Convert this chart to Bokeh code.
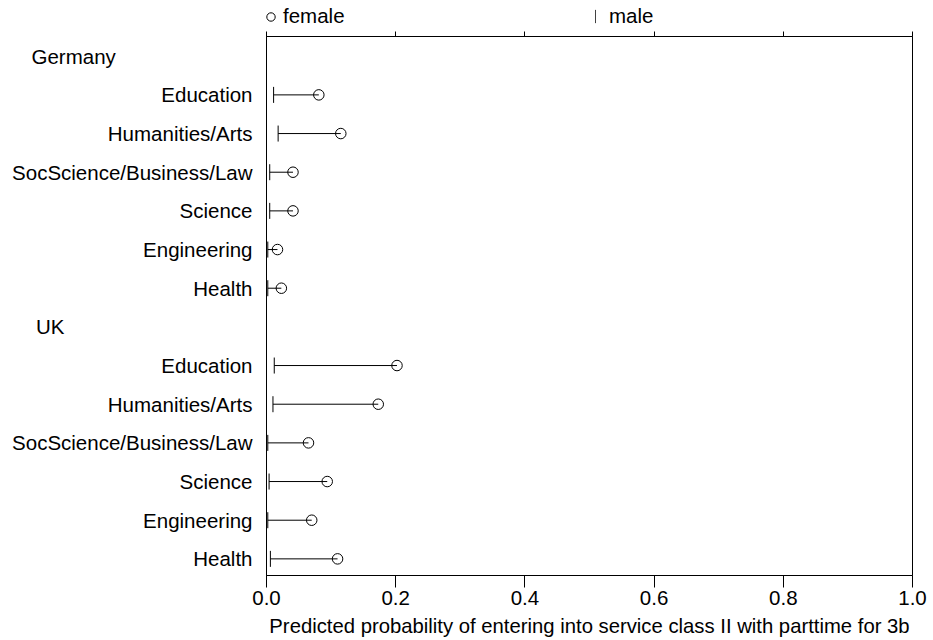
import math

from bokeh.embed import file_html
from bokeh.layouts import column
from bokeh.resources import INLINE
from bokeh.plotting import figure
from bokeh.models import (ColumnDataSource, FixedTicker, LinearAxis,
                          Legend, LegendItem, NumeralTickFormatter, Range1d)

# Predicted probabilities by field of study, per country
fields = ["Education", "Humanities/Arts", "SocScience/Business/Law",
          "Science", "Engineering", "Health"]
countries = ["Germany", "UK"]
germany_female = [0.081, 0.115, 0.041, 0.041, 0.017, 0.023]
germany_male = [0.011, 0.018, 0.005, 0.005, 0.002, 0.002]
uk_female = [0.202, 0.173, 0.065, 0.094, 0.070, 0.110]
uk_male = [0.012, 0.010, 0.002, 0.004, 0.002, 0.006]
x_ticks = [0.0, 0.2, 0.4, 0.6, 0.8, 1.0]
x_title = "Predicted probability of entering into service class II with parttime for 3b"

FONT = "Liberation Sans"
FS = "20.5px"
NBSP = "\u00a0"
# country headers sit flush left in the label column: pad with no-break spaces
header_pad = {"Germany": 24, "UK": 33}

W, H = 933, 640
KEY_H = 30  # strip above the plot holding the key

# Row layout: a header row per country followed by its six fields
rows_y, row_field, row_female, row_male = [], [], [], []
label_map = {}
pos = 0
for name, (female, male) in zip(countries, ((germany_female, germany_male),
                                            (uk_female, uk_male))):
    label_map[-pos] = name + NBSP * header_pad[name]
    pos += 1
    for f, fv, mv in zip(fields, female, male):
        rows_y.append(-pos)
        row_field.append(f)
        row_female.append(fv)
        row_male.append(mv)
        label_map[-pos] = f
        pos += 1

src = ColumnDataSource(dict(y=rows_y, field=row_field, female=row_female, male=row_male))

p = figure(width=W, height=H - KEY_H, output_backend="svg", toolbar_location=None,
           x_range=Range1d(0, 1), y_range=Range1d(-(pos - 1) - 0.43, 0.51),
           min_border_left=266, min_border_right=21, min_border_top=36 - KEY_H,
           min_border_bottom=65, x_axis_location=None, y_axis_location=None)
p.grid.visible = False
p.outline_line_color = "black"
p.outline_line_width = 1
p.background_fill_color = "white"
p.border_fill_color = "white"

# bottom axis
xb = LinearAxis(ticker=FixedTicker(ticks=x_ticks),
                formatter=NumeralTickFormatter(format="0.0"),
                axis_label=x_title)
xb.major_tick_out = 12
xb.major_tick_in = 0
xb.minor_tick_out = 0
xb.minor_tick_in = 0
xb.major_label_standoff = 3
xb.axis_label_standoff = 7
xb.major_label_text_font = FONT
xb.major_label_text_font_size = FS
xb.major_label_text_color = "black"
xb.axis_label_text_font = FONT
xb.axis_label_text_font_size = "20.3px"
xb.axis_label_text_font_style = "normal"
xb.axis_label_text_color = "black"
xb.axis_line_color = "black"
xb.major_tick_line_color = "black"
p.add_layout(xb, "below")

# top axis: ticks only
xt = LinearAxis(ticker=FixedTicker(ticks=x_ticks))
xt.major_tick_out = 5
xt.major_tick_in = 0
xt.minor_tick_out = 0
xt.minor_tick_in = 0
xt.major_label_text_font_size = "0px"
xt.major_label_standoff = 0
xt.axis_line_color = "black"
xt.major_tick_line_color = "black"
p.add_layout(xt, "above")

# left axis with country headers and field names
ticks_y = sorted(label_map.keys())
yl = LinearAxis(ticker=FixedTicker(ticks=ticks_y), major_label_overrides=label_map)
yl.major_tick_out = 0
yl.major_tick_in = 0
yl.minor_tick_out = 0
yl.minor_tick_in = 0
yl.major_label_standoff = 14
yl.major_label_text_font = FONT
yl.major_label_text_font_size = FS
yl.major_label_text_color = "black"
yl.axis_line_color = "black"
p.add_layout(yl, "left")

# connectors, male ticks and female circles
male_style = dict(marker="dash", angle=math.pi / 2, line_color="black", line_width=1)
female_style = dict(marker="circle", fill_color=None, line_color="black", line_width=1)
p.segment(x0="male", y0="y", x1="female", y1="y", source=src,
          line_color="black", line_width=1)
p.scatter(x="male", y="y", source=src, size=16, **male_style)
p.scatter(x="female", y="y", source=src, size=10.5, **female_style)

# key strip: one legend per series so each key can be placed on its own
key = figure(width=W, height=KEY_H, output_backend="svg", toolbar_location=None,
             x_range=Range1d(0, 1), y_range=Range1d(0, 1), min_border=0,
             x_axis_location=None, y_axis_location=None)
key.grid.visible = False
key.outline_line_color = None
key.background_fill_color = "white"
key.border_fill_color = "white"
nan = float("nan")
k_female = key.scatter(x=[nan], y=[nan], size=8, **female_style)
# a very narrow solid bar gives an upright stroke as the male key
k_male = key.vbar(x=[nan], top=[nan], width=0.01, fill_color="black",
                  line_color="black", line_width=0.6)


def add_key(label, renderer, loc, gw, gh, standoff):
    key.add_layout(Legend(items=[LegendItem(label=label, renderers=[renderer])],
                          location=loc, glyph_width=gw, glyph_height=gh,
                          label_standoff=standoff, padding=0, margin=0, spacing=0,
                          border_line_color=None, background_fill_alpha=0,
                          label_text_font=FONT, label_text_font_size=FS,
                          label_text_color="black"), "center")


add_key("female", k_female, (-6, 2), 21, 21, 2)
add_key("male", k_male, (329, 2), 1, 16, 13)

open("out.html", "w").write(file_html(column(key, p, spacing=0), INLINE))
